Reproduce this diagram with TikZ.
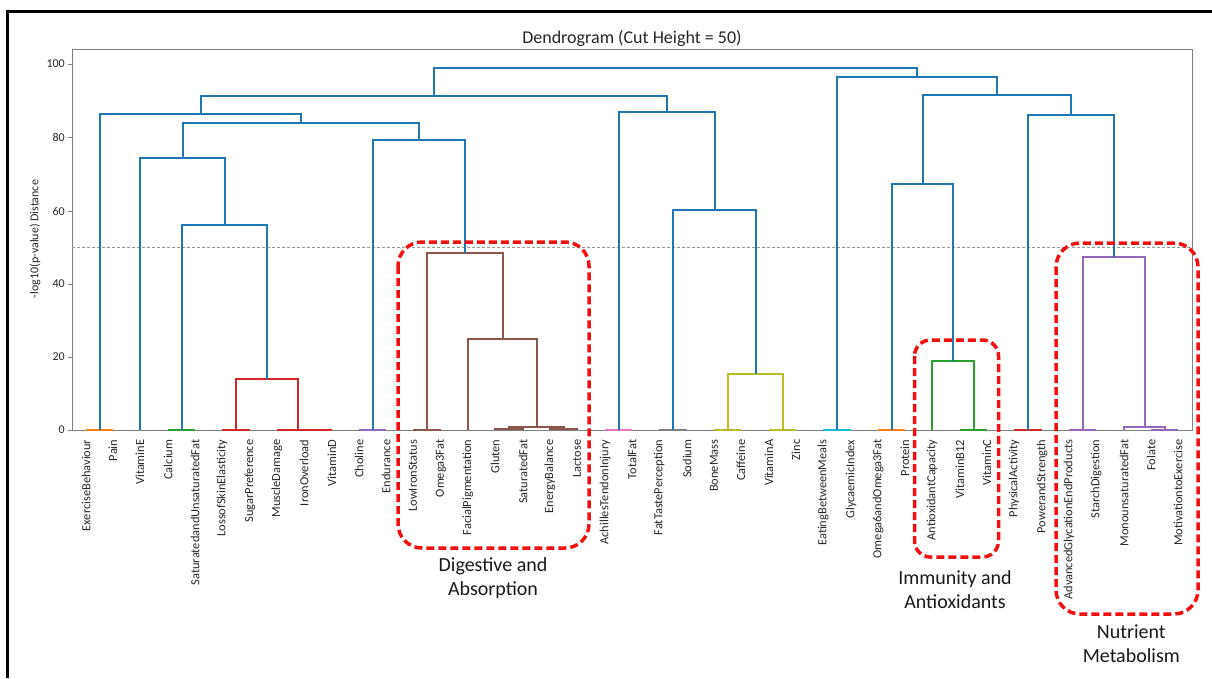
\documentclass[tikz,border=0pt]{standalone}
\usepackage{fontspec}
\setmainfont{Carlito}
\usetikzlibrary{calc}
\definecolor{C0}{HTML}{1F77B4}
\definecolor{C1}{HTML}{FF7F0E}
\definecolor{C2}{HTML}{2CA02C}
\definecolor{C3}{HTML}{D62728}
\definecolor{C4}{HTML}{9467BD}
\definecolor{C5}{HTML}{8C564B}
\definecolor{C6}{HTML}{E377C2}
\definecolor{C7}{HTML}{7F7F7F}
\definecolor{C8}{HTML}{BCBD22}
\definecolor{C9}{HTML}{17BECF}
\definecolor{spinec}{HTML}{808080}
\definecolor{annred}{HTML}{F01010}
\tikzset{
  dlink/.style={line width=1.6pt},
  spine/.style={draw=spinec, line width=1pt},
  leaflab/.style={rotate=90, anchor=east, inner sep=0pt, text=black!85, font=\fontsize{12.4}{14}\selectfont},
  ticklab/.style={anchor=east, inner sep=0pt, text=black!85, font=\fontsize{12}{14}\selectfont},
  redbox/.style={draw=annred, line width=3.5pt, dash pattern=on 8pt off 4pt, rounded corners=#1},
  redbox/.default=24pt,
  ann/.style={anchor=base, inner sep=0pt, text=black!90, font=\fontsize{20}{24}\selectfont},
}
\newcommand\mrg[5]{%
  \draw[dlink,#5] let \p1=(#2), \p2=(#3) in (\p1) -- (\x1,{hy(#4)}) -- (\x2,{hy(#4)}) -- (\p2);
  \path let \p1=(#2), \p2=(#3), \n1={round((\x1+\x2)/2)} in coordinate (#1) at (\n1,{hy(#4)});
}
\begin{document}
\begin{tikzpicture}[x=1pt,y=-1pt,
  declare function={lx(\i)=round(72+27.3171*(\i-0.5)); hy(\h)=round(430.4-3.665*\h);}]
\useasboundingbox (0,0) rectangle (1212,678);
% outer frame (top and left edges)
\draw[line width=3pt] (1212,11) -- (7.5,11) -- (7.5,678);
% axes box
\draw[spine] (72,49) rectangle (1192,{hy(0)});
% title
\node[anchor=base, inner sep=0pt, text=black!85, font=\fontsize{18}{20}\selectfont] (title) at (632,43.3) {Dendrogram (Cut Height = 50)};
% y ticks
\foreach \v in {0,20,40,60,80,100}{
  \draw[spine] (68,{hy(\v)}) -- (72,{hy(\v)});
  \node[ticklab] (t\v) at (65,{hy(\v)}) {\v};
}
\node[rotate=90, inner sep=0pt, text=black!85, font=\fontsize{12}{14}\selectfont] (ylab) at (35,239) {-log10(p-value) Distance};
% cut line
\draw[draw=black!40, line width=0.9pt, dash pattern=on 3pt off 2pt] (72,{hy(50)}) -- (1192,{hy(50)});
% leaves
\foreach \i in {1,...,41}{\coordinate (L\i) at ({lx(\i)},{hy(0)});}
% coloured clusters
\mrg{c1}{L1}{L2}{0.1}{C1}
\mrg{c2}{L4}{L5}{0.1}{C2}
\mrg{c3a}{L6}{L7}{0.1}{C3}
\mrg{c3b}{L9}{L10}{0.1}{C3}
\mrg{c3c}{L8}{c3b}{0.15}{C3}
\mrg{c3}{c3a}{c3c}{14}{C3}
\mrg{c4}{L11}{L12}{0.1}{C4}
\mrg{c5a}{L13}{L14}{0.1}{C5}
\mrg{c5b}{L16}{L17}{0.3}{C5}
\mrg{c5c}{L18}{L19}{0.3}{C5}
\mrg{c5d}{c5b}{c5c}{0.8}{C5}
\mrg{c5e}{L15}{c5d}{24.9}{C5}
\mrg{c5}{c5a}{c5e}{48.5}{C5}
\mrg{c6}{L20}{L21}{0.1}{C6}
\mrg{c7}{L22}{L23}{0.1}{C7}
\mrg{c8a}{L24}{L25}{0.1}{C8}
\mrg{c8b}{L26}{L27}{0.1}{C8}
\mrg{c8}{c8a}{c8b}{15.3}{C8}
\mrg{c9}{L28}{L29}{0.1}{C9}
\mrg{c10}{L30}{L31}{0.1}{C1}
\mrg{c11a}{L33}{L34}{0.1}{C2}
\mrg{c11}{L32}{c11a}{19.0}{C2}
\mrg{c12}{L35}{L36}{0.1}{C3}
\mrg{c13a}{L37}{L38}{0.1}{C4}
\mrg{c13b}{L40}{L41}{0.1}{C4}
\mrg{c13c}{L39}{c13b}{1.0}{C4}
\mrg{c13}{c13a}{c13c}{47.3}{C4}
% blue links above the cut
\mrg{b1}{c2}{c3}{56.1}{C0}
\mrg{b2}{L3}{b1}{74.2}{C0}
\mrg{b3}{c4}{c5}{79.2}{C0}
\mrg{b4}{b2}{b3}{83.8}{C0}
\mrg{b5}{c1}{b4}{86.4}{C0}
\mrg{b6}{c7}{c8}{60.1}{C0}
\mrg{b7}{c6}{b6}{86.8}{C0}
\mrg{b8}{b5}{b7}{91.3}{C0}
\mrg{b9}{c10}{c11}{67.3}{C0}
\mrg{b10}{c12}{c13}{86.0}{C0}
\mrg{b11}{b9}{b10}{91.6}{C0}
\mrg{b12}{c9}{b11}{96.4}{C0}
\mrg{b13}{b8}{b12}{99.0}{C0}
% leaf labels
\foreach \i/\t in {1/ExerciseBehaviour,2/Pain,3/VitaminE,4/Calcium,5/SaturatedandUnsaturatedFat,
  6/LossofSkinElasticity,7/SugarPreference,8/MuscleDamage,9/IronOverload,10/VitaminD,
  11/Choline,12/Endurance,13/LowIronStatus,14/Omega3Fat,15/FacialPigmentation,16/Gluten,
  17/SaturatedFat,18/EnergyBalance,19/Lactose,20/AchillesTendonInjury,21/TotalFat,
  22/FatTastePerception,23/Sodium,24/BoneMass,25/Caffeine,26/VitaminA,27/Zinc,
  28/EatingBetweenMeals,29/GlycaemicIndex,30/Omega6andOmega3Fat,31/Protein,
  32/AntioxidantCapacity,33/VitaminB12,34/VitaminC,35/PhysicalActivity,36/PowerandStrength,
  37/AdvancedGlycationEndProducts,38/StarchDigestion,39/MonounsaturatedFat,40/Folate,
  41/MotivationtoExercise}{
  \node[leaflab] (n\i) at ({lx(\i)},439.5) {\t};
}
% highlighted groups
\draw[redbox] (398,242) rectangle (589,548);
\draw[redbox=16pt] (914.5,340) rectangle (998.5,557);
\draw[redbox] (1056,243) rectangle (1198,614);
\node[ann] (g1a) at (493,571.7) {Digestive and};
\node[ann] (g1b) at (493,595.7) {Absorption};
\node[ann] (g2a) at (955,584) {Immunity and};
\node[ann] (g2b) at (955,608) {Antioxidants};
\node[ann] (g3a) at (1131.3,638.3) {Nutrient};
\node[ann] (g3b) at (1131.3,662.3) {Metabolism};
\end{tikzpicture}
\end{document}
